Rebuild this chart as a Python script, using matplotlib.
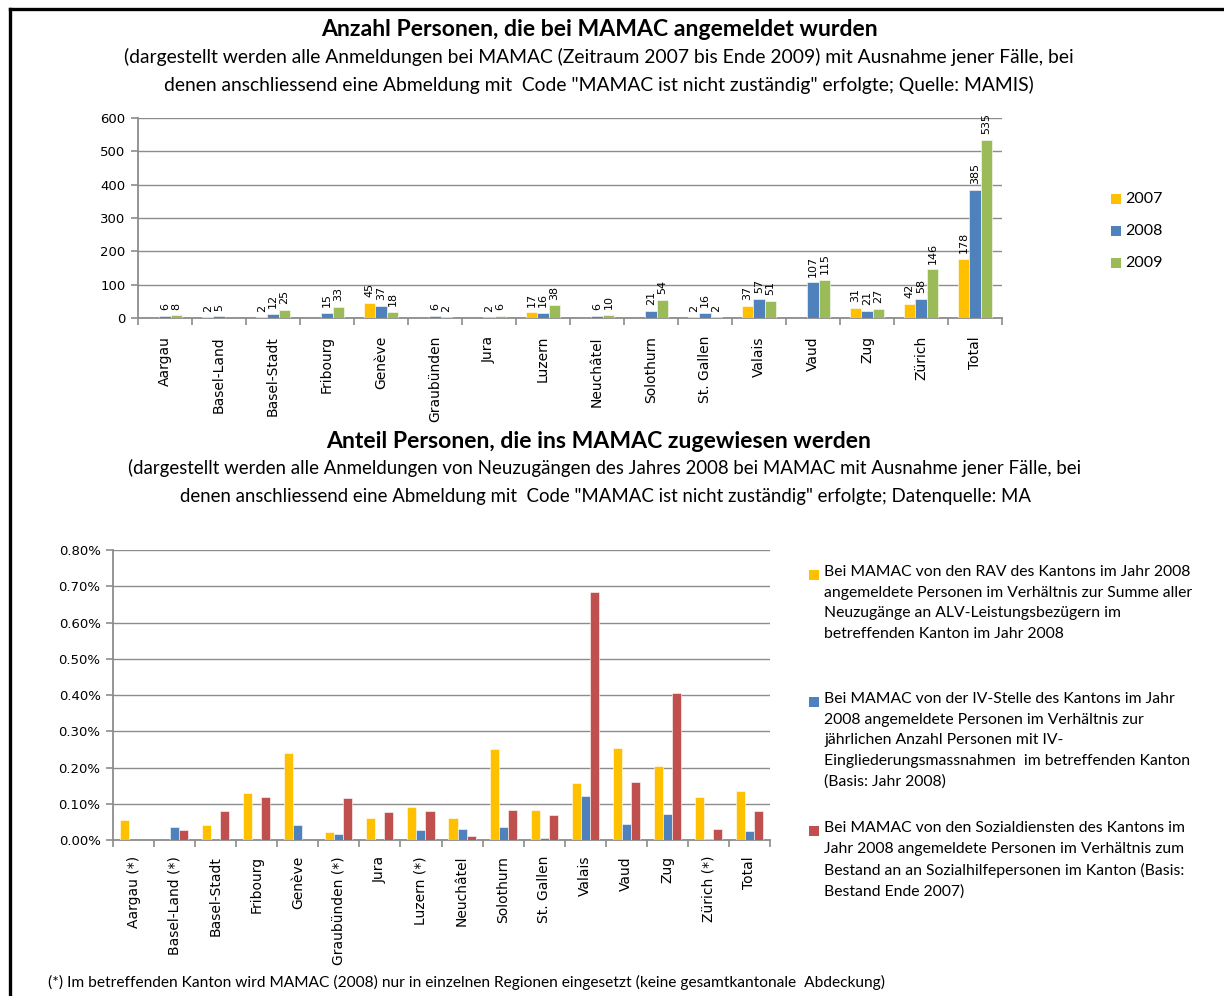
import matplotlib

matplotlib.use("Agg")
import matplotlib.pyplot as plt
import numpy as np
from matplotlib.lines import Line2D
from matplotlib.patches import Rectangle
from matplotlib.ticker import FixedLocator, FuncFormatter

# ---- data: top chart (Anzahl Personen) ----
kantone_top = ["Aargau", "Basel-Land", "Basel-Stadt", "Fribourg", "Genève",
               "Graubünden", "Jura", "Luzern", "Neuchâtel", "Solothurn",
               "St. Gallen", "Valais", "Vaud", "Zug", "Zürich", "Total"]
jahre = ["2007", "2008", "2009"]
anm_2007 = [None, 2, 2, None, 45, None, None, 17, None, None, 2, 37, None, 31, 42, 178]
anm_2008 = [6, 5, 12, 15, 37, 6, 2, 16, 6, 21, 16, 57, 107, 21, 58, 385]
anm_2009 = [8, None, 25, 33, 18, 2, 6, 38, 10, 54, 2, 51, 115, 27, 146, 535]

# ---- data: bottom chart (Anteil Personen, in %) ----
kantone_bot = ["Aargau (*)", "Basel-Land (*)", "Basel-Stadt", "Fribourg", "Genève",
               "Graubünden (*)", "Jura", "Luzern (*)", "Neuchâtel", "Solothurn",
               "St. Gallen", "Valais", "Vaud", "Zug", "Zürich (*)", "Total"]
anteil_rav = [0.055, None, 0.041, 0.131, 0.241, 0.021, 0.062, 0.090, 0.062, 0.250,
              0.083, 0.156, 0.254, 0.205, 0.118, 0.135]
anteil_iv = [None, 0.035, None, None, 0.041, 0.017, None, 0.028, 0.031, 0.035,
             0.006, 0.121, 0.044, 0.073, 0.003, 0.024]
anteil_soz = [None, 0.028, 0.080, 0.118, None, 0.115, 0.076, 0.080, 0.011, 0.083,
              0.069, 0.683, 0.160, 0.405, 0.031, 0.080]
legend_bot = [
    "Bei MAMAC von den RAV des Kantons im Jahr 2008\nangemeldete Personen im Verhältnis zur Summe aller\n"
    "Neuzugänge an ALV-Leistungsbezügern im\nbetreffenden Kanton im Jahr 2008",
    "Bei MAMAC von der IV-Stelle des Kantons im Jahr\n2008 angemeldete Personen im Verhältnis zur\n"
    "jährlichen Anzahl Personen mit IV-\nEingliederungsmassnahmen  im betreffenden Kanton\n(Basis: Jahr 2008)",
    "Bei MAMAC von den Sozialdiensten des Kantons im\nJahr 2008 angemeldete Personen im Verhältnis zum\n"
    "Bestand an an Sozialhilfepersonen im Kanton (Basis:\nBestand Ende 2007)",
]

YELLOW, BLUE, GREEN, RED = "#FFC000", "#4F81BD", "#9BBB59", "#C0504D"
GRID = "#8C8C8C"
TITLE_FONT = "Lato"

W, H = 1224, 996
fig = plt.figure(figsize=(W / 100, H / 100), dpi=100)


def px_axes(left, top, right, bottom):
    return fig.add_axes([left / W, 1 - bottom / H, (right - left) / W, (bottom - top) / H])


def vals(seq):
    return np.array([np.nan if v is None else v for v in seq], dtype=float)


def style_axes(ax, n, label_pad):
    for s in ("top", "right"):
        ax.spines[s].set_visible(False)
    for s in ("left", "bottom"):
        ax.spines[s].set_color(GRID)
        ax.spines[s].set_linewidth(1.3)
    ax.yaxis.grid(True, color=GRID, linewidth=1.0)
    ax.set_axisbelow(True)
    ax.set_xlim(-0.5, n - 0.5)
    ax.xaxis.set_major_locator(FixedLocator(np.arange(n)))
    ax.xaxis.set_minor_locator(FixedLocator(np.arange(n + 1) - 0.5))
    ax.tick_params(axis="x", which="major", length=0, pad=label_pad)
    ax.tick_params(axis="x", which="minor", length=5, color=GRID, width=1.2)
    ax.tick_params(axis="y", length=5, color=GRID, width=1.2, labelsize=9.5, pad=4)


# ---------------- top chart ----------------
ax1 = px_axes(138, 118, 1002, 318)
x = np.arange(len(kantone_top))
bw = 0.21
for i, (serie, col) in enumerate(zip([anm_2007, anm_2008, anm_2009], [YELLOW, BLUE, GREEN])):
    v = vals(serie)
    pos = x + (i - 1) * bw
    ax1.bar(pos, v, width=bw, color=col, edgecolor="white", linewidth=0.4, zorder=3)
    for xp, yv in zip(pos, v):
        if not np.isnan(yv):
            ax1.annotate(f"{int(yv)}", (xp, yv), xytext=(0, 4), textcoords="offset points",
                         rotation=90, ha="center", va="bottom", fontsize=8)
ax1.set_ylim(0, 600)
ax1.set_yticks(np.arange(0, 601, 100))
style_axes(ax1, len(kantone_top), 13)
ax1.set_xticklabels(kantone_top, rotation=90, fontsize=10)

for j, (lab, col) in enumerate(zip(jahre, [YELLOW, BLUE, GREEN])):
    yc = 199 + j * 32
    fig.add_artist(Rectangle((1111 / W, 1 - (yc + 5) / H), 10 / W, 10 / H,
                             facecolor=col, edgecolor="none", transform=fig.transFigure))
    fig.text(1125 / W, 1 - yc / H, lab, fontsize=11.5, family=TITLE_FONT, va="center")

# ---------------- bottom chart ----------------
ax2 = px_axes(113, 550, 770, 840)
x2 = np.arange(len(kantone_bot))
bw2 = 0.22
for i, (serie, col) in enumerate(zip([anteil_rav, anteil_iv, anteil_soz], [YELLOW, BLUE, RED])):
    ax2.bar(x2 + (i - 1) * bw2, vals(serie), width=bw2, color=col,
            edgecolor="white", linewidth=0.4, zorder=3)
ax2.set_ylim(0, 0.8)
ax2.set_yticks(np.arange(0, 0.81, 0.1))
ax2.yaxis.set_major_formatter(FuncFormatter(lambda v, p: f"{v:.2f}%"))
style_axes(ax2, len(kantone_bot), 11.5)
ax2.set_xticklabels(kantone_bot, rotation=90, fontsize=10)

starts = [575, 702, 831]
for txt, col, yc in zip(legend_bot, [YELLOW, BLUE, RED], starts):
    fig.add_artist(Rectangle((809 / W, 1 - (yc + 5) / H), 10 / W, 10 / H,
                             facecolor=col, edgecolor="none", transform=fig.transFigure))
    fig.text(824 / W, 1 - (yc - 10) / H, txt, fontsize=11.3, family=TITLE_FONT,
             va="top", ha="left", linespacing=1.6)

# ---------------- titles and notes ----------------
xc = 0.5 * (122 + 1076) / W
fig.text(xc, 1 - 30 / H, "Anzahl Personen, die bei MAMAC angemeldet wurden",
         ha="center", va="center", fontsize=16.6, fontweight="bold", family=TITLE_FONT)
fig.text(xc, 1 - 71 / H,
         "(dargestellt werden alle Anmeldungen bei MAMAC (Zeitraum 2007 bis Ende 2009) mit Ausnahme jener Fälle, bei\n"
         "denen anschliessend eine Abmeldung mit  Code \"MAMAC ist nicht zuständig\" erfolgte; Quelle: MAMIS)",
         ha="center", va="center", fontsize=13.9, family=TITLE_FONT, linespacing=1.65)
fig.text(xc, 1 - 441 / H, "Anteil Personen, die ins MAMAC zugewiesen werden",
         ha="center", va="center", fontsize=16.6, fontweight="bold", family=TITLE_FONT)
fig.text((130 + 1080) / 2 / W, 1 - 482 / H,
         "(dargestellt werden alle Anmeldungen von Neuzugängen des Jahres 2008 bei MAMAC mit Ausnahme jener Fälle, bei\n"
         "denen anschliessend eine Abmeldung mit  Code \"MAMAC ist nicht zuständig\" erfolgte; Datenquelle: MA",
         ha="center", va="center", fontsize=13.4, family=TITLE_FONT, linespacing=1.72)
fig.text(48 / W, 1 - 982 / H,
         "(*) Im betreffenden Kanton wird MAMAC (2008) nur in einzelnen Regionen eingesetzt (keine gesamtkantonale  Abdeckung)",
         ha="left", va="center", fontsize=11.2, family=TITLE_FONT)

# frame around the sheet
fig.add_artist(Line2D([10 / W, 10 / W], [0, 1 - 9 / H], color="black", linewidth=2.4,
                      transform=fig.transFigure))
fig.add_artist(Line2D([10 / W, 1], [1 - 9 / H, 1 - 9 / H], color="black", linewidth=2.4,
                      transform=fig.transFigure))

fig.savefig("out.png", dpi=100)
